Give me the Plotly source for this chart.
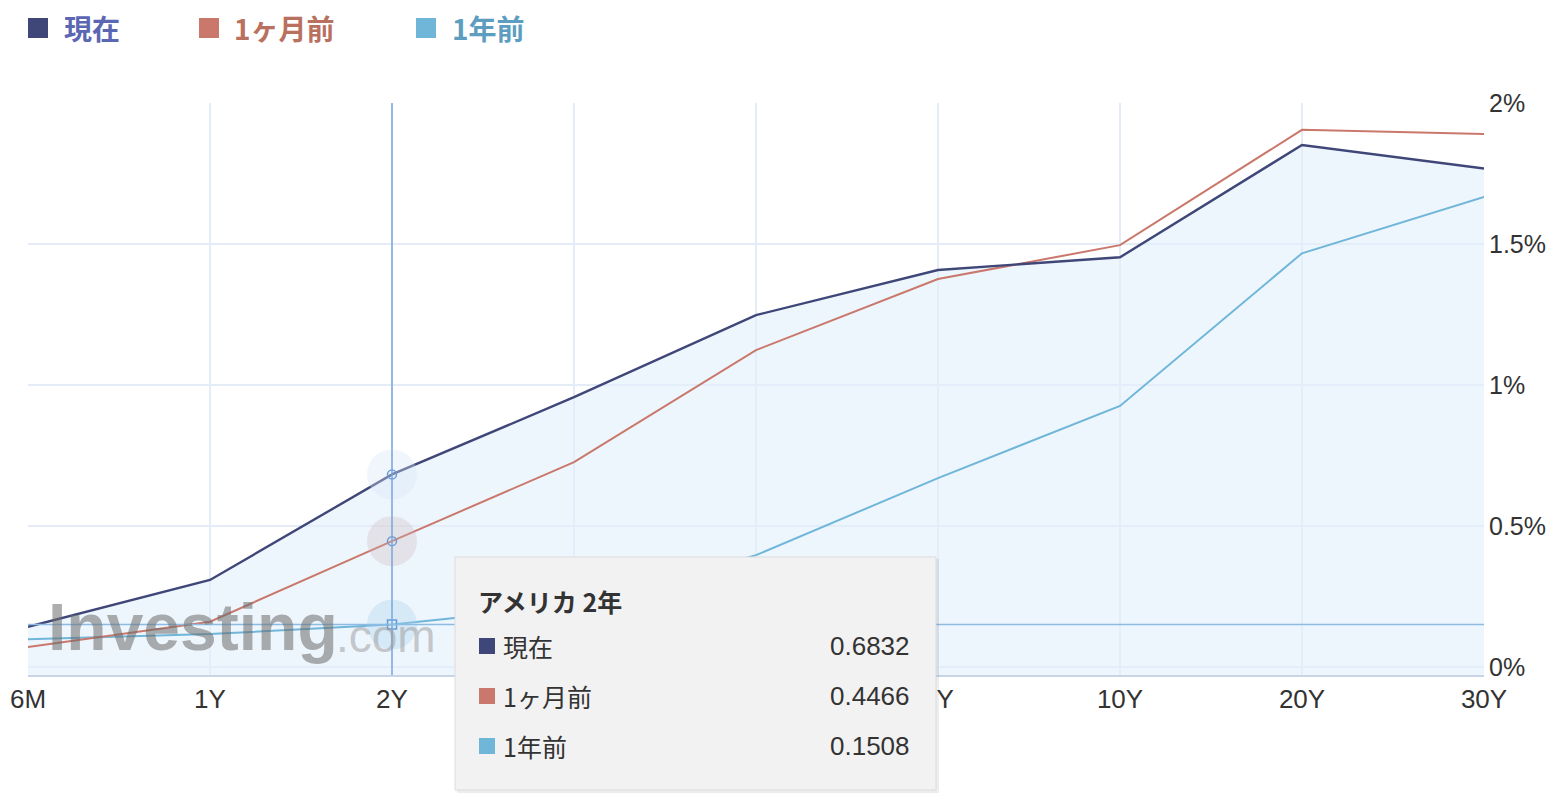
import plotly.graph_objects as go

# ---------------- data ----------------
CATEGORIES = ["6M", "1Y", "2Y", "3Y", "5Y", "7Y", "10Y", "20Y", "30Y"]
CURRENT = [0.143, 0.309, 0.6832, 0.957, 1.248, 1.408, 1.453, 1.851, 1.768]
MONTH_AGO = [0.071, 0.161, 0.4466, 0.727, 1.124, 1.376, 1.496, 1.905, 1.890]
YEAR_AGO = [0.099, 0.117, 0.1508, 0.218, 0.397, 0.670, 0.926, 1.467, 1.667]
SERIES_NAMES = ["現在", "1ヶ月前", "1年前"]
Y_TICKS = [0, 0.5, 1.0, 1.5, 2.0]
Y_TICK_LABELS = ["0%", "0.5%", "1%", "1.5%", "2%"]
Y_MIN, Y_MAX = -0.028, 2.0
HOVER_INDEX = 2
TOOLTIP_TITLE = "アメリカ 2年"

# ---------------- styles ----------------
C_CUR = "#3f4778"
C_MON = "#c9786b"
C_YR = "#6fb6d9"
TXT_CUR = "#5b67b3"
TXT_MON = "#b9705f"
TXT_YR = "#5d9dc0"
FILL = "rgba(226,240,252,0.6)"
GRID = "#e4ecf7"

# page layout (page pixels); the html body has an 8px default margin
BODY = 8
PAGE_W, PAGE_H = 1558, 807
FIG_W, FIG_H = PAGE_W - 2 * BODY, PAGE_H - 2 * BODY
L, R, T, B = 28, 1484, 103, 675


def px(x):
    return (x - L) / (R - L)


def py(y):
    return (B - y) / (B - T)


xs = list(range(len(CATEGORIES)))
fig = go.Figure()

# baseline for area fill (bottom of plot)
fig.add_trace(go.Scatter(x=xs, y=[Y_MIN] * len(xs), mode="lines",
                         line=dict(width=0), hoverinfo="skip", showlegend=False))
fig.add_trace(go.Scatter(x=xs, y=CURRENT, mode="lines", fill="tonexty",
                         fillcolor=FILL, line=dict(width=0), hoverinfo="skip",
                         showlegend=False))

# lines
fig.add_trace(go.Scatter(x=xs, y=YEAR_AGO, mode="lines", name=SERIES_NAMES[2],
                         line=dict(color=C_YR, width=2), showlegend=False))
fig.add_trace(go.Scatter(x=xs, y=MONTH_AGO, mode="lines", name=SERIES_NAMES[1],
                         line=dict(color=C_MON, width=2), showlegend=False))
fig.add_trace(go.Scatter(x=xs, y=CURRENT, mode="lines", name=SERIES_NAMES[0],
                         line=dict(color=C_CUR, width=2.4), showlegend=False))

# hover halos + markers
hx = [HOVER_INDEX] * 3
hy = [CURRENT[HOVER_INDEX], MONTH_AGO[HOVER_INDEX], YEAR_AGO[HOVER_INDEX]]
fig.add_trace(go.Scatter(x=hx, y=hy, mode="markers", hoverinfo="skip", showlegend=False,
                         marker=dict(size=50, color=["rgba(215,228,245,0.35)",
                                                     "rgba(205,180,190,0.30)",
                                                     "rgba(170,210,235,0.35)"],
                                     line=dict(width=0))))
fig.add_trace(go.Scatter(x=hx, y=hy, mode="markers", hoverinfo="skip", showlegend=False,
                         marker=dict(size=9, symbol=["circle-open", "circle-open", "square-open"],
                                     color="#6a9ad6", line=dict(width=1.5))))

# crosshair
fig.add_shape(type="line", xref="x", yref="paper", x0=HOVER_INDEX, x1=HOVER_INDEX,
              y0=0, y1=1, line=dict(color="#7ba7dc", width=1.5))
fig.add_shape(type="line", xref="paper", yref="y", x0=0, x1=1,
              y0=YEAR_AGO[HOVER_INDEX], y1=YEAR_AGO[HOVER_INDEX],
              line=dict(color="#8dbbe2", width=1.5))

# legend
legend_items = [(SERIES_NAMES[0], C_CUR, TXT_CUR, 28, 62),
                (SERIES_NAMES[1], C_MON, TXT_MON, 199, 232),
                (SERIES_NAMES[2], C_YR, TXT_YR, 416, 450)]
for name, sq, tc, sx, tx in legend_items:
    fig.add_shape(type="rect", xref="paper", yref="paper",
                  x0=px(sx), x1=px(sx + 20), y0=py(38), y1=py(18),
                  fillcolor=sq, line=dict(width=0))
    fig.add_annotation(xref="paper", yref="paper", x=px(tx), y=py(28),
                       xanchor="left", yanchor="middle", showarrow=False,
                       text="<b>" + name + "</b>",
                       font=dict(family="Noto Sans CJK JP", size=28, color=tc))

# watermark
fig.add_annotation(xref="paper", yref="paper", x=px(46), y=py(666),
                   xanchor="left", yanchor="bottom", showarrow=False,
                   text="<b>Investing</b>", opacity=0.55,
                   font=dict(family="Liberation Sans", size=66, color="#6d6d6d"))
fig.add_annotation(xref="paper", yref="paper", x=px(334), y=py(664),
                   xanchor="left", yanchor="bottom", showarrow=False,
                   text=".com", opacity=0.5,
                   font=dict(family="Liberation Sans", size=46, color="#9a9a9a"))

# tooltip
fig.add_shape(type="rect", xref="paper", yref="paper",
              x0=px(457), x1=px(939), y0=py(793), y1=py(559),
              fillcolor="rgba(0,0,0,0.07)", line=dict(width=0))
fig.add_shape(type="rect", xref="paper", yref="paper",
              x0=px(455), x1=px(936), y0=py(790), y1=py(557),
              fillcolor="#f2f2f2", line=dict(color="#dcdcdc", width=1))
fig.add_annotation(xref="paper", yref="paper", x=px(476), y=py(601),
                   xanchor="left", yanchor="middle", showarrow=False,
                   text="<b>" + TOOLTIP_TITLE + "</b>",
                   font=dict(family="Noto Sans CJK JP", size=25, color="#333333"))
rows = [(SERIES_NAMES[0], C_CUR, CURRENT[HOVER_INDEX], 646),
        (SERIES_NAMES[1], C_MON, MONTH_AGO[HOVER_INDEX], 696),
        (SERIES_NAMES[2], C_YR, YEAR_AGO[HOVER_INDEX], 746)]
for name, col, val, ry in rows:
    fig.add_shape(type="rect", xref="paper", yref="paper",
                  x0=px(479), x1=px(495), y0=py(ry + 8), y1=py(ry - 8),
                  fillcolor=col, line=dict(width=0))
    fig.add_annotation(xref="paper", yref="paper", x=px(501), y=py(ry),
                       xanchor="left", yanchor="middle", showarrow=False,
                       text=name,
                       font=dict(family="Noto Sans CJK JP", size=25, color="#333333"))
    fig.add_annotation(xref="paper", yref="paper", x=px(912), y=py(ry),
                       xanchor="right", yanchor="middle", showarrow=False,
                       text=f"{val:.4f}",
                       font=dict(family="Liberation Sans", size=26, color="#333333"))

fig.update_layout(
    width=FIG_W, height=FIG_H,
    margin=dict(l=L - BODY, r=FIG_W - (R - BODY), t=T - BODY, b=FIG_H - (B - BODY),
                autoexpand=False),
    paper_bgcolor="white", plot_bgcolor="white",
    showlegend=False,
    xaxis=dict(range=[0, len(CATEGORIES) - 1], tickmode="array", tickvals=xs,
               ticktext=CATEGORIES, showgrid=True, gridcolor=GRID, gridwidth=1.5,
               zeroline=False, showline=True, linecolor="#c9d5e6", linewidth=2,
               ticks="", ticklabelstandoff=0, automargin=False,
               tickfont=dict(family="Liberation Sans", size=26, color="#333333")),
    yaxis=dict(range=[Y_MIN, Y_MAX], side="right", tickmode="array", tickvals=Y_TICKS,
               ticktext=Y_TICK_LABELS, showgrid=True, gridcolor=GRID, gridwidth=1.5,
               zeroline=False, showline=False, ticks="", ticklabelstandoff=4,
               automargin=False,
               tickfont=dict(family="Liberation Sans", size=25, color="#333333")),
)

fig.write_html("out.html")
